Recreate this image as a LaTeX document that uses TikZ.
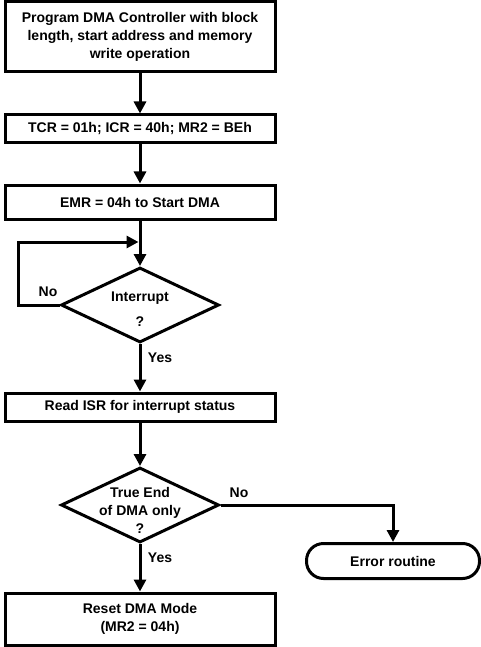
\documentclass[tikz,border=0pt]{standalone}
\usepackage{fontspec}
\setmainfont{Liberation Sans}
\usetikzlibrary{arrows.meta,shapes.geometric}
\begin{document}
\begin{tikzpicture}[x=1pt,y=1pt,line width=3pt,
                    >={Triangle[length=12pt,width=12pt]},
                    font=\fontsize{14}{18}\selectfont\bfseries]
\tikzset{blk/.style={draw, rectangle, minimum width=270pt, align=center, inner sep=0pt},
         dec/.style={draw, diamond, minimum width=158pt, minimum height=75pt, inner sep=0pt},
         term/.style={draw, rectangle, rounded corners=17pt, minimum width=173pt, minimum height=35pt},
         txt/.style={align=center, inner sep=0pt}}
\useasboundingbox (0,0) rectangle (481,-647);

\node[blk, minimum height=70pt] (prog) at (140,-37) {Program DMA Controller with block\\length, start address and memory\\write operation};
\node[blk, minimum height=28pt] (tcr) at (140,-129) {TCR = 01h; ICR = 40h; MR2 = BEh};
\node[blk, minimum height=34pt] (emr) at (140,-202) {EMR = 04h to Start DMA};
\node[dec] (int) at (140,-305) {};
\node[txt] (inttxt) at (140,-309) {Interrupt\\[7pt]?};
\node[blk, minimum height=28pt] (isr) at (140,-407) {Read ISR for interrupt status};
\node[dec] (eod) at (140,-505) {};
\node[txt] (eodtxt) at (140,-510) {True End\\of DMA only\\?};
\node[term] (err) at (393,-561) {Error routine};
\node[blk, minimum height=52pt] (reset) at (140,-619) {Reset DMA Mode\\(MR2 = 04h)};

\coordinate (lp) at (18,-242);
\coordinate (mid) at (140,-242);

\node[txt] (no1) at (48,-292) {No};
\node[txt] (yes1) at (160,-358) {Yes};
\node[txt] (no2) at (239,-493) {No};
\node[txt] (yes2) at (160,-558) {Yes};

\draw[->] (prog) -- (tcr);
\draw[->] (tcr) -- (emr);
\draw[->] (emr) -- (int);
\draw[->,shorten >=1.5pt] (int.west) -| (lp) -- (mid);
\draw[->] (int) -- (isr);
\draw[->] (isr) -- (eod);
\draw[->] (eod.east) -| (err.north);
\draw[->] (eod) -- (reset);

\end{tikzpicture}
\end{document}
